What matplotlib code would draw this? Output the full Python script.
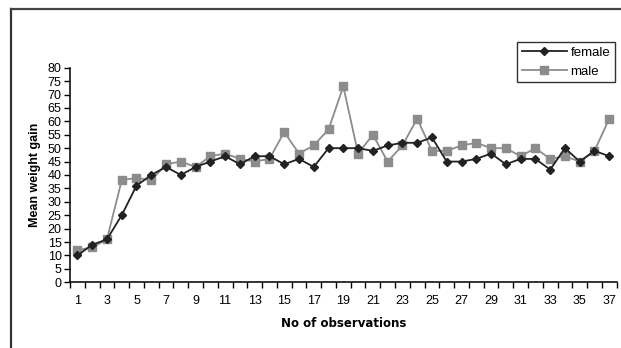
import matplotlib
matplotlib.use("Agg")
import matplotlib.pyplot as plt
from matplotlib.lines import Line2D
from matplotlib.ticker import MultipleLocator, FixedLocator

plt.rcParams["font.family"] = ["Liberation Sans", "DejaVu Sans"]

# ── data ─────────────────────────────────────
obs = list(range(1, 38))
female = [10, 14, 16, 25, 36, 40, 43, 40, 43, 45,
          47, 44, 47, 47, 44, 46, 43, 50, 50, 50,
          49, 51, 52, 52, 54, 45, 45, 46, 48, 44,
          46, 46, 42, 50, 45, 49, 47]
male = [12, 13, 16, 38, 39, 38, 44, 45, 43, 47,
        48, 46, 45, 46, 56, 48, 51, 57, 73, 48,
        55, 45, 51, 61, 49, 49, 51, 52, 50, 50,
        47, 50, 46, 47, 45, 49, 61]
x_labels = [str(i) if i % 2 == 1 else "" for i in obs]

# ── figure ───────────────────────────────────
fig = plt.figure(figsize=(6.21, 3.48), dpi=100)
ax = fig.add_axes([0.1127, 0.1888, 0.8803, 0.6167])

ax.plot(obs, female, color="#222222", lw=1.3, marker="D", ms=4.5,
        mfc="#222222", mec="#222222", label="female", zorder=3)
ax.plot(obs, male, color="#8c8c8c", lw=1.3, marker="s", ms=5.5,
        mfc="#8c8c8c", mec="#8c8c8c", label="male", zorder=2)

ax.set_xlim(0.5, 37.5)
ax.set_ylim(0, 80)
ax.yaxis.set_major_locator(MultipleLocator(5))
ax.set_xticks(obs)
ax.set_xticklabels(x_labels)
ax.xaxis.set_minor_locator(FixedLocator([i + 0.5 for i in range(0, 38)]))
ax.tick_params(axis="x", which="major", length=0, pad=9, labelsize=9)
ax.tick_params(axis="x", which="minor", length=4, width=1, direction="out")
ax.tick_params(axis="y", length=4, width=1, direction="out", pad=2, labelsize=9)

for side in ("top", "right"):
    ax.spines[side].set_visible(False)
for side in ("left", "bottom"):
    ax.spines[side].set_linewidth(1.2)
    ax.spines[side].set_color("#111111")

ax.set_ylabel("Mean weight gain", fontsize=9, fontweight="bold", labelpad=5)
ax.set_xlabel("No of observations", fontsize=8.5, fontweight="bold",
              family="DejaVu Sans", labelpad=7)

leg = ax.legend(loc="upper right", bbox_to_anchor=(615 / 621, 1 - 42 / 348),
                bbox_transform=fig.transFigure, frameon=True, fancybox=False,
                fontsize=9.5, handlelength=3.4, handletextpad=0.3,
                borderpad=0.35, labelspacing=0.5, borderaxespad=0)
leg.get_frame().set_edgecolor("black")
leg.get_frame().set_linewidth(1.0)

# outer frame (left and top edges)
fig.add_artist(Line2D([11 / 621, 11 / 621], [0, 1 - 9 / 348],
                      transform=fig.transFigure, color="#333333", lw=1.6))
fig.add_artist(Line2D([11 / 621, 1], [1 - 9 / 348, 1 - 9 / 348],
                      transform=fig.transFigure, color="#444444", lw=1.6))

fig.savefig("out.png", dpi=100)
